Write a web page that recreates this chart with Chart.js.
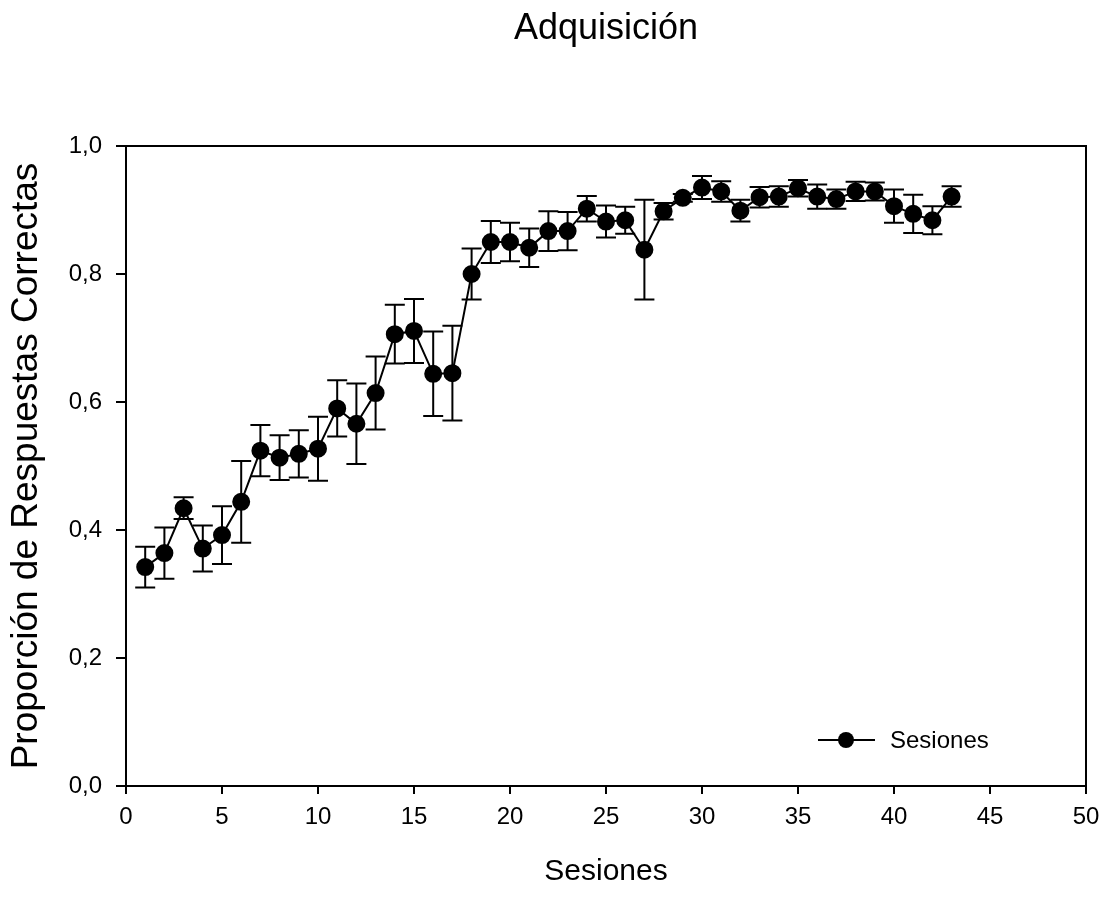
<!DOCTYPE html>
<html>
<head>
<meta charset="utf-8">
<script src="https://cdn.jsdelivr.net/npm/chart.js@4.4.1/dist/chart.umd.min.js"></script>
<style>
  body { margin: 0; background: #fff; }
  #wrap { width: 1111px; height: 915px; }
</style>
</head>
<body>
<div id="wrap"><canvas id="chart"></canvas></div>
<script>
// data
const sessions = [1, 2, 3, 4, 5, 6, 7, 8, 9, 10, 11, 12, 13, 14, 15, 16, 17, 18, 19, 20, 21, 22,
  23, 24, 25, 26, 27, 28, 29, 30, 31, 32, 33, 34, 35, 36, 37, 38, 39, 40, 41, 42, 43]
const meanCorrect = [0.342, 0.364, 0.434, 0.371, 0.392, 0.444, 0.524, 0.513, 0.519, 0.527,
  0.590, 0.566, 0.614, 0.706, 0.711, 0.644, 0.645, 0.800, 0.850, 0.850, 0.841, 0.867,
  0.867, 0.902, 0.882, 0.884, 0.838, 0.898, 0.919, 0.935, 0.929, 0.899, 0.920, 0.921,
  0.934, 0.921, 0.917, 0.929, 0.929, 0.906, 0.894, 0.884, 0.921]
const errCorrect = [0.032, 0.040, 0.017, 0.036, 0.045, 0.064, 0.040, 0.035, 0.037, 0.050,
  0.044, 0.063, 0.057, 0.046, 0.050, 0.066, 0.074, 0.040, 0.033, 0.030, 0.030, 0.031,
  0.030, 0.020, 0.025, 0.021, 0.078, 0.013, 0.006, 0.018, 0.016, 0.017, 0.016, 0.016,
  0.013, 0.019, 0.015, 0.015, 0.014, 0.026, 0.030, 0.022, 0.016]
const xTicks = [0, 5, 10, 15, 20, 25, 30, 35, 40, 45, 50]
const yTicks = [0, 0.2, 0.4, 0.6, 0.8, 1.0]

const chartTitle = 'Adquisición'
const font = 'Arial, "Liberation Sans", sans-serif'

// error bars, box frame, title and legend
const extras = {
  id: 'extras',
  beforeDatasetsDraw(chart) {
    const ctx = chart.ctx
    const x = chart.scales.x, y = chart.scales.y
    ctx.save()
    ctx.strokeStyle = '#000'
    ctx.lineWidth = 2
    sessions.forEach((s, i) => {
      const px = x.getPixelForValue(s)
      const top = y.getPixelForValue(meanCorrect[i] + errCorrect[i])
      const bot = y.getPixelForValue(meanCorrect[i] - errCorrect[i])
      ctx.beginPath()
      ctx.moveTo(px, top); ctx.lineTo(px, bot)
      ctx.moveTo(px - 10, top); ctx.lineTo(px + 10, top)
      ctx.moveTo(px - 10, bot); ctx.lineTo(px + 10, bot)
      ctx.stroke()
    })
    ctx.restore()
  },
  afterDraw(chart) {
    const ctx = chart.ctx
    const a = chart.chartArea
    ctx.save()
    ctx.strokeStyle = '#000'
    ctx.fillStyle = '#000'
    ctx.lineWidth = 2
    ctx.strokeRect(a.left, a.top, a.right - a.left, a.bottom - a.top)
    // title, centred over the plot area
    ctx.font = '36px ' + font
    ctx.textAlign = 'center'
    ctx.textBaseline = 'middle'
    ctx.fillText(chartTitle, (a.left + a.right) / 2, 29)
    // legend
    const ly = 740
    ctx.beginPath()
    ctx.moveTo(818, ly); ctx.lineTo(875, ly)
    ctx.stroke()
    ctx.beginPath()
    ctx.arc(846, ly, 8, 0, Math.PI * 2)
    ctx.fill()
    ctx.font = '24px ' + font
    ctx.textAlign = 'left'
    ctx.fillText(chart.data.datasets[0].label, 890, ly + 1)
    ctx.restore()
  }
}

new Chart(document.querySelector('#chart'), {
  type: 'scatter',
  data: {
    datasets: [{
      label: 'Sesiones',
      data: sessions.map((s, i) => ({ x: s, y: meanCorrect[i] })),
      showLine: true,
      borderColor: '#000',
      borderWidth: 2,
      backgroundColor: '#000',
      pointRadius: 8,
      pointHoverRadius: 8,
    }]
  },
  options: {
    responsive: true,
    maintainAspectRatio: false,
    animation: false,
    layout: { padding: { left: 0, right: 25, top: 146, bottom: 0 } },
    plugins: {
      legend: { display: false },
      tooltip: { enabled: false },
    },
    scales: {
      x: {
        type: 'linear',
        min: 0, max: 50,
        afterBuildTicks: s => { s.ticks = xTicks.map(v => ({ value: v })) },
        afterFit: s => { s.height = 129 },
        grid: { drawOnChartArea: false, drawTicks: true, tickLength: 8, color: '#000', lineWidth: 2 },
        border: { display: true, color: '#000', width: 2 },
        ticks: { color: '#000', padding: 9, maxRotation: 0, font: { family: font, size: 24 } },
        title: {
          display: true, text: 'Sesiones', color: '#000',
          font: { family: font, size: 30, weight: 'normal' },
          padding: { top: 0, bottom: 25 },
        },
      },
      y: {
        type: 'linear',
        min: 0, max: 1,
        afterBuildTicks: s => { s.ticks = yTicks.map(v => ({ value: v })) },
        afterFit: s => { s.width = 126 },
        grid: { drawOnChartArea: false, drawTicks: true, tickLength: 10, color: '#000', lineWidth: 2 },
        border: { display: true, color: '#000', width: 2 },
        ticks: {
          color: '#000', padding: 14, font: { family: font, size: 24 },
          callback: v => v.toFixed(1).replace('.', ','),
        },
        title: {
          display: true, text: 'Proporción de Respuestas Correctas', color: '#000',
          font: { family: font, size: 37, weight: 'normal' },
          padding: { top: 5, bottom: 0 },
        },
      },
    },
  },
  plugins: [extras],
})
</script>
</body>
</html>
